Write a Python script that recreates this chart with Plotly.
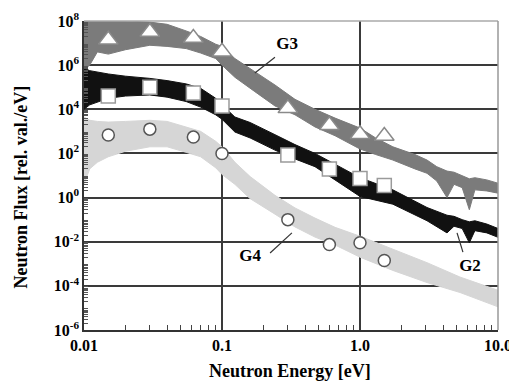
import plotly.graph_objects as go

# ---- spectra envelopes (log10 of flux) ----
g3_energy = [0.01, 0.011, 0.0125, 0.015, 0.02, 0.03, 0.04, 0.055, 0.07, 0.09, 0.1, 0.124,
             0.173, 0.242, 0.338, 0.472, 0.66, 1.0, 1.3, 1.73, 2.5, 3.06, 3.6, 4.27, 4.8,
             5.5, 6.2, 6.8, 8.3, 10.0]
g3_top_log = [8.0, 8.0, 8.0, 8.0, 8.0, 7.95, 7.85, 7.55, 7.3, 6.95, 6.85, 6.3, 5.7, 5.1,
              4.45, 4.0, 3.6, 3.15, 2.7, 2.3, 1.95, 1.7, 1.4, 1.2, 1.15, 1.0, 0.85, 0.9,
              0.8, 0.65]
g3_bottom_log = [5.8, 6.0, 6.6, 6.5, 6.7, 6.9, 6.85, 6.75, 6.55, 6.3, 6.0, 5.45, 4.8, 4.15,
                 3.75, 3.2, 2.8, 2.2, 1.95, 1.7, 1.3, 1.1, 0.75, 0.0, 0.6, 0.45, -0.55,
                 0.35, 0.3, 0.2]

g2_energy = [0.01, 0.011, 0.015, 0.02, 0.03, 0.04, 0.055, 0.07, 0.09, 0.1, 0.124, 0.16,
             0.242, 0.338, 0.472, 0.66, 1.0, 1.73, 3.06, 4.27, 4.8, 5.5, 6.2, 6.8, 8.3, 10.0]
g2_top_log = [5.87, 5.75, 5.6, 5.5, 5.4, 5.3, 5.15, 4.95, 4.5, 4.2, 3.65, 3.4, 2.85, 2.4,
              2.0, 1.5, 0.9, 0.35, -0.45, -0.8, -0.85, -1.0, -1.1, -1.05, -1.2, -1.4]
g2_bottom_log = [4.0, 4.2, 4.5, 4.6, 4.65, 4.55, 4.35, 4.1, 3.75, 3.55, 2.97, 2.7, 2.15,
                 1.75, 1.4, 0.8, 0.05, -0.3, -1.05, -1.6, -1.3, -1.4, -2.05, -1.5, -1.6, -1.8]

g4_energy = [0.01, 0.011, 0.0125, 0.015, 0.02, 0.03, 0.04, 0.055, 0.07, 0.09, 0.1, 0.124,
             0.16, 0.242, 0.338, 0.472, 0.66, 1.0, 1.73, 3.06, 5.3, 10.0]
g4_top_log = [3.65, 3.5, 3.45, 3.42, 3.45, 3.5, 3.45, 3.2, 3.0, 2.55, 2.3, 1.6, 0.95, 0.1,
              -0.47, -0.93, -1.35, -1.75, -2.35, -2.95, -3.6, -4.2]
g4_bottom_log = [0.6, 1.3, 1.6, 1.85, 2.1, 2.3, 2.3, 2.05, 1.85, 1.35, 1.05, 0.6, -0.05,
                 -0.75, -1.33, -1.79, -2.15, -2.7, -3.3, -3.85, -4.3, -4.95]

# ---- marker points ----
marker_energy = [0.015, 0.03, 0.062, 0.1, 0.3, 0.6, 1.0, 1.5]
g3_markers = [1.4e7, 3.2e7, 1.7e7, 4e6, 1.1e4, 1.9e3, 740, 620]
g2_markers = [4e4, 1e5, 5.4e4, 1.4e4, 85, 19.5, 7.4, 3.5]
g4_markers = [680, 1260, 550, 100, 0.1, 7.4e-3, 9e-3, 1.4e-3]

# ---- labels ----
label_text = ["G3", "G2", "G4"]
label_energy = [0.296, 6.27, 0.16]
label_flux = [8.1e6, 7e-4, 2.0e-3]
leader_energy = [[0.242, 0.173], [5.57, 5.05], [0.223, 0.321]]
leader_flux = [[2.3e6, 4.4e5], [3.4e-3, 2.5e-2], [3.1e-3, 2.5e-2]]

x_tickvals = [0.01, 0.1, 1, 10]
x_ticktext = ["0.01", "0.1", "1.0", "10.0"]
y_tickvals = [1e-6, 1e-4, 1e-2, 1e0, 1e2, 1e4, 1e6, 1e8]
y_ticktext = ["10<sup>-6</sup>", "10<sup>-4</sup>", "10<sup>-2</sup>", "10<sup>0</sup>",
              "10<sup>2</sup>", "10<sup>4</sup>", "10<sup>6</sup>", "10<sup>8</sup>"]

FONT = "Liberation Serif"


def band(energy, top_log, bottom_log, color):
    xs = list(energy) + list(energy)[::-1]
    ys = [10 ** v for v in top_log] + [10 ** v for v in bottom_log][::-1]
    return go.Scatter(x=xs, y=ys, mode="lines", fill="toself", fillcolor=color,
                      line=dict(color=color, width=1), hoverinfo="skip", showlegend=False)


fig = go.Figure()
fig.add_trace(band(g3_energy, g3_top_log, g3_bottom_log, "#7b7b7b"))
fig.add_trace(band(g2_energy, g2_top_log, g2_bottom_log, "#111111"))
fig.add_trace(band(g4_energy, g4_top_log, g4_bottom_log, "#d6d6d6"))

fig.add_trace(go.Scatter(x=marker_energy, y=g3_markers, mode="markers", showlegend=False,
                         marker=dict(symbol="triangle-up", size=17, color="white",
                                     line=dict(color="#8a8a8a", width=1.5))))
fig.add_trace(go.Scatter(x=marker_energy, y=g2_markers, mode="markers", showlegend=False,
                         marker=dict(symbol="square", size=14, color="white",
                                     line=dict(color="#9a9a9a", width=1.5))))
fig.add_trace(go.Scatter(x=marker_energy, y=g4_markers, mode="markers", showlegend=False,
                         marker=dict(symbol="circle", size=12, color="white",
                                     line=dict(color="#555555", width=1.5))))

for ex, fy in zip(leader_energy, leader_flux):
    fig.add_trace(go.Scatter(x=ex, y=fy, mode="lines", showlegend=False,
                             line=dict(color="#333333", width=1.2), hoverinfo="skip"))

fig.add_trace(go.Scatter(x=label_energy, y=label_flux, mode="text", text=label_text,
                         textfont=dict(family=FONT, size=17, color="black", weight="bold"),
                         showlegend=False, hoverinfo="skip"))

x_minor = [m * 10 ** k for k in (-2, -1, 0) for m in range(2, 10)]
y_minor = [m * 10 ** k for k in range(-6, 8) for m in range(2, 10)]

fig.update_xaxes(type="log", range=[-2, 1], tickvals=x_tickvals, ticktext=x_ticktext,
                 showgrid=True, gridcolor="#3a3a3a", gridwidth=1.5, zeroline=False,
                 showline=True, linecolor="#333333", linewidth=1.5, ticks="",
                 automargin=False, ticklabeloverflow="allow",
                 tickfont=dict(family=FONT, size=16, color="black", weight="bold"),
                 minor=dict(tickvals=x_minor, ticks="inside", ticklen=5, tickcolor="#444",
                            showgrid=False))
fig.update_yaxes(type="log", range=[-6, 8], tickvals=y_tickvals, ticktext=y_ticktext,
                 showgrid=True, gridcolor="#3a3a3a", gridwidth=1.5, zeroline=False,
                 showline=True, linecolor="#333333", linewidth=1.5, ticks="",
                 automargin=False, ticklabeloverflow="allow",
                 tickfont=dict(family=FONT, size=16, color="black", weight="bold"),
                 minor=dict(tickvals=y_minor, ticks="inside", ticklen=4, tickcolor="#555",
                            showgrid=False))

# the page body adds an 8px offset, so the figure is shrunk and its margins shifted
fig.update_layout(
    width=509, height=375,
    margin=dict(l=76, r=19, t=13, b=53),
    plot_bgcolor="white", paper_bgcolor="white",
    showlegend=False,
    shapes=[
        dict(type="line", xref="paper", yref="paper", x0=0, x1=1, y0=1, y1=1,
             line=dict(color="#aaaaaa", width=1.5)),
        dict(type="line", xref="paper", yref="paper", x0=1, x1=1, y0=0, y1=1,
             line=dict(color="#999999", width=1.5)),
    ],
    annotations=[
        dict(text="<b>Neutron Energy [eV]</b>", xref="paper", yref="paper", x=0.498,
             y=-0.133, showarrow=False, xanchor="center", yanchor="middle",
             font=dict(family=FONT, size=18, color="black")),
        dict(text="<b>Neutron Flux [rel. val./eV]</b>", xref="paper", yref="paper",
             x=-0.153, y=0.463, showarrow=False, textangle=-90, xanchor="center",
             yanchor="middle", font=dict(family=FONT, size=18, color="black")),
    ],
)

fig.write_html("out.html")
